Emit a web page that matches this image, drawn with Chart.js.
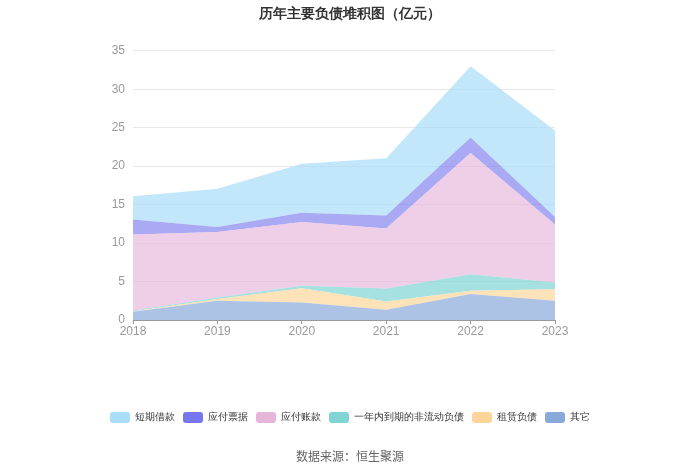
<!DOCTYPE html>
<html lang="zh">
  <head>
    <meta charset="UTF-8" />
    <title>历年主要负债堆积图</title>
    <script src="https://cdn.jsdelivr.net/npm/chart.js"></script>
    <style>
      body {
        margin: 0;
        background: #fff;
        font-family: "Noto Sans CJK SC", "Noto Sans", sans-serif;
      }
      .wrap {
        position: relative;
        width: 700px;
        height: 473px;
      }
      .source {
        position: absolute;
        left: 0;
        right: 0;
        top: 447px;
        text-align: center;
        font-size: 12px;
        color: #666;
      }
    </style>
  </head>
  <body>
    <div class="wrap">
      <canvas id="debtChart" width="700" height="473"></canvas>
      <div class="source">数据来源：恒生聚源</div>
    </div>

    <script>
      // data (亿元), bottom of the stack first
      const years = ["2018", "2019", "2020", "2021", "2022", "2023"];
      const other = [1.08, 2.5, 2.29, 1.34, 3.37, 2.5];
      const leaseLiab = [0.02, 0.22, 1.85, 1.08, 0.43, 1.5];
      const currentNonCurrent = [0.1, 0.21, 0.31, 1.68, 2.16, 0.88];
      const accountsPayable = [9.93, 8.51, 8.28, 7.81, 15.74, 7.55];
      const notesPayable = [1.95, 0.65, 1.21, 1.69, 2.04, 0.95];
      const shortLoans = [3.02, 4.96, 6.39, 7.42, 9.26, 11.26];

      const series = [
        { label: "其它", data: other, color: "#8aa9db", fill: "rgba(138,169,219,0.7)" },
        { label: "租赁负债", data: leaseLiab, color: "#fdd59a", fill: "rgba(253,213,154,0.7)" },
        { label: "一年内到期的非流动负债", data: currentNonCurrent, color: "#80d4d4", fill: "rgba(128,212,212,0.7)" },
        { label: "应付账款", data: accountsPayable, color: "#e7b4da", fill: "rgba(231,180,218,0.65)" },
        { label: "应付票据", data: notesPayable, color: "#7676ee", fill: "rgba(118,118,238,0.62)" },
        { label: "短期借款", data: shortLoans, color: "#a9ddf8", fill: "rgba(169,221,248,0.7)" },
      ];

      new Chart(document.getElementById("debtChart"), {
        type: "line",
        data: {
          labels: years,
          datasets: series.map((s, i) => ({
            label: s.label,
            data: s.data,
            backgroundColor: s.fill,
            borderWidth: 0,
            pointRadius: 0,
            fill: i === 0 ? "origin" : "-1",
            tension: 0,
            swatch: s.color,
          })),
        },
        options: {
          responsive: false,
          animation: false,
          layout: { padding: { left: 0, right: 0, top: 6, bottom: 40 } },
          plugins: {
            tooltip: { enabled: false },
            title: {
              display: true,
              text: "历年主要负债堆积图（亿元）",
              color: "#333",
              font: { size: 14, weight: "bold" },
              padding: { top: 0, bottom: 28 },
            },
            legend: {
              position: "bottom",
              reverse: true,
              labels: {
                color: "#333",
                font: { size: 10 },
                boxWidth: 20,
                boxHeight: 11,
                padding: 8,
                generateLabels: (chart) =>
                  chart.data.datasets.map((ds, i) => ({
                    text: ds.label,
                    fillStyle: ds.swatch,
                    strokeStyle: ds.swatch,
                    lineWidth: 0,
                    borderRadius: 3,
                    datasetIndex: i,
                    fontColor: "#333",
                  })),
              },
            },
          },
          scales: {
            x: {
              offset: false,
              grid: { display: true, drawOnChartArea: false, color: "#999", tickLength: 4 },
              border: { color: "#999" },
              ticks: { color: "#999", font: { size: 12 }, padding: 0 },
              afterFit: (s) => {
                s.height = 84;
              },
            },
            y: {
              stacked: true,
              min: 0,
              max: 35,
              ticks: { stepSize: 5, color: "#999", font: { size: 12 }, padding: 8 },
              grid: { color: "#e8e8e8", drawTicks: false },
              border: { display: false },
              afterFit: (s) => {
                s.width = 133;
              },
            },
            // empty right-hand axis, only reserves the margin on the right
            yRight: {
              position: "right",
              display: true,
              grid: { display: false, drawTicks: false },
              border: { display: false },
              ticks: { display: false },
              afterFit: (s) => {
                s.width = 145;
              },
            },
          },
        },
      });
    </script>
  </body>
</html>
